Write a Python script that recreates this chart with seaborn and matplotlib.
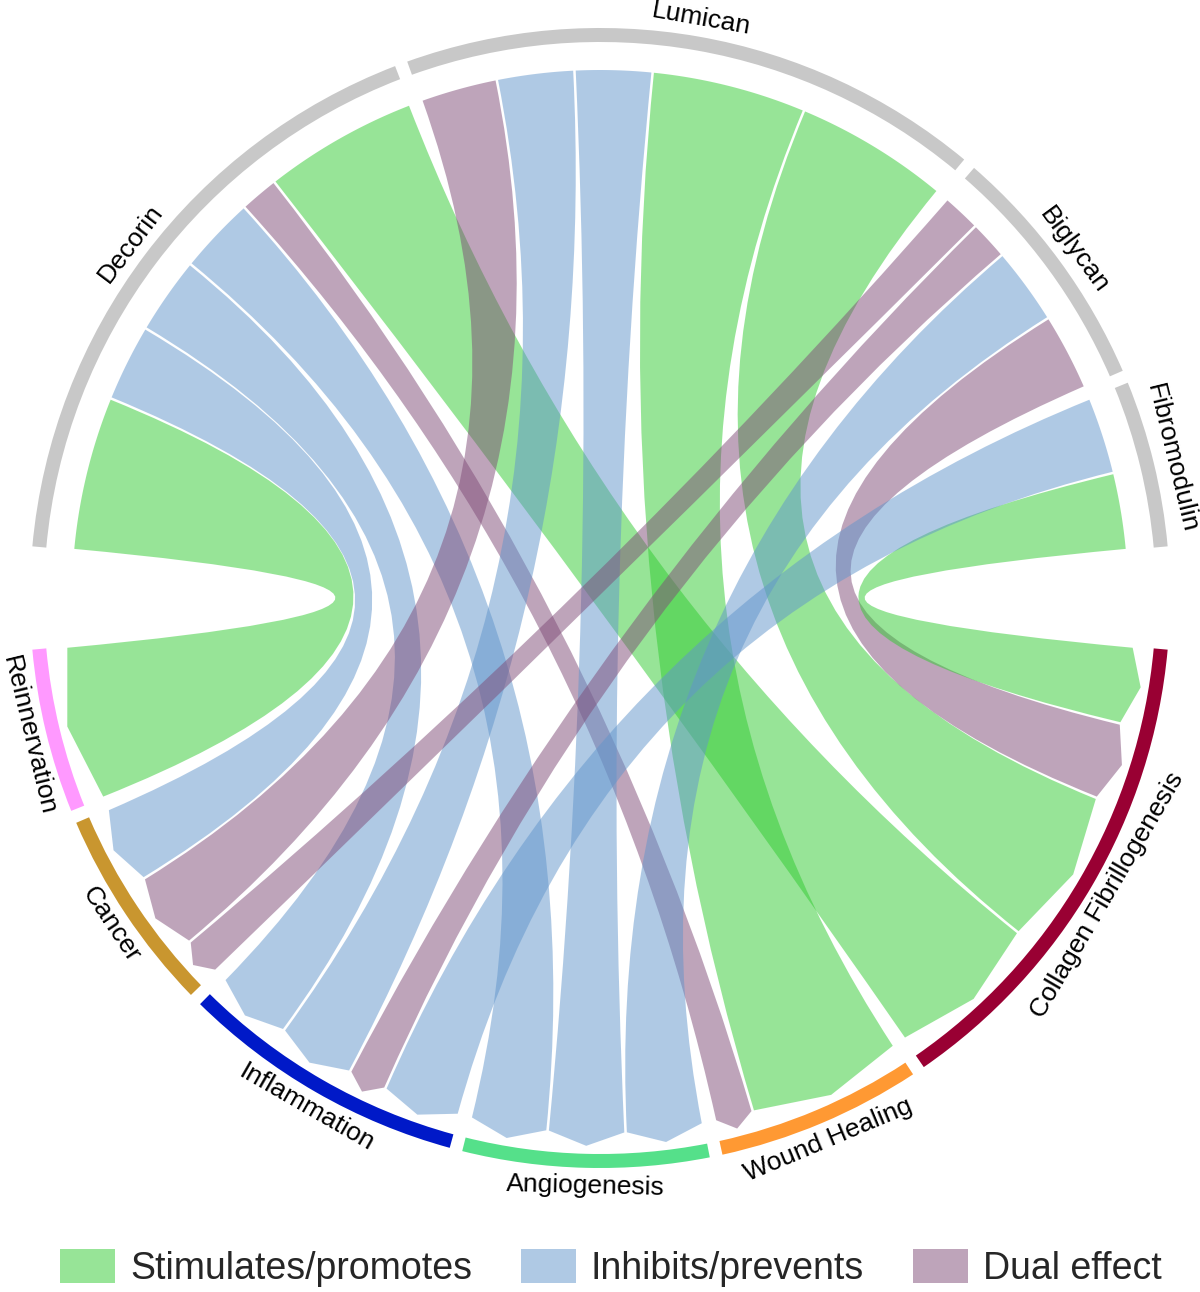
import numpy as np
import matplotlib
matplotlib.use('Agg')
import matplotlib.pyplot as plt
from matplotlib.path import Path
from matplotlib.patches import PathPatch, Wedge, Patch
import seaborn as sns

# groups on the two halves of the circle
proteins = ['Decorin', 'Lumican', 'Biglycan', 'Fibromodulin']
functions = ['Collagen Fibrillogenesis', 'Wound Healing', 'Angiogenesis',
             'Inflammation', 'Cancer', 'Reinnervation']

# link weights protein -> function (same order as functions)
decorin_vals = [4, 1, 2, 2, 2, 4]
lumican_vals = [4, 4, 2, 2, 2, 0]
biglycan_vals = [2, 0, 2, 1, 1, 0]
fibromodulin_vals = [2, 0, 0, 2, 0, 0]

# effect of each link: S stimulates, I inhibits, D dual
decorin_fx = ['S', 'D', 'I', 'I', 'I', 'S']
lumican_fx = ['S', 'S', 'I', 'I', 'D', '']
biglycan_fx = ['D', '', 'I', 'D', 'D', '']
fibromodulin_fx = ['S', '', '', 'I', '', '']

effect_names = ['Stimulates/promotes', 'Inhibits/prevents', 'Dual effect']
effect_keys = ['S', 'I', 'D']
effect_colors = {'S': '#31cb31', 'I': '#6195cb', 'D': '#7f4b77'}
function_colors = ['#990033', '#ff9933', '#55e08a', '#0019c8', '#c9962f', '#ff99ff']
protein_color = '#c8c8c8'

sns.set_theme(style='white')
plt.rcParams['font.family'] = ['Liberation Sans', 'DejaVu Sans']

vals = np.array([decorin_vals, lumican_vals, biglycan_vals, fibromodulin_vals], dtype=float)
fx = [decorin_fx, lumican_fx, biglycan_fx, fibromodulin_fx]
n_p, n_f = vals.shape

# layout (angles clockwise from 12 o'clock)
gap = np.radians(1.3)
top_start, top_end = np.radians(-84.8), np.radians(84.8)
bot_start, bot_end = np.radians(95.2), np.radians(264.8)
total = vals.sum()
k_top = (top_end - top_start - (n_p - 1) * gap) / total
k_bot = (bot_end - bot_start - (n_f - 1) * gap) / total

# protein side: links ordered clockwise by function, last one first
src = {}
prot_arcs = []
a = top_start
for i in range(n_p):
    a0 = a
    for j in reversed(range(n_f)):
        if vals[i, j] > 0:
            src[(i, j)] = (a, a + vals[i, j] * k_top)
            a += vals[i, j] * k_top
    prot_arcs.append((a0, a))
    a += gap

# function side
tgt = {}
func_arcs = []
a = bot_start
for j in range(n_f):
    a0 = a
    for i in reversed(range(n_p)):
        if vals[i, j] > 0:
            tgt[(i, j)] = (a, a + vals[i, j] * k_bot)
            a += vals[i, j] * k_bot
    func_arcs.append((a0, a))
    a += gap


def pt(r, ang):
    return (r * np.sin(ang), r * np.cos(ang))


def ribbon(s0, s1, t0, t1, sr=528, tr=548, hr=13, pad=0.0024):
    # arc at the source, arrow head at the target (like d3.ribbonArrow)
    s0, s1 = s0 + pad, s1 - pad
    t0, t1 = t0 + pad, t1 - pad
    arc = np.linspace(s0, s1, 50)
    verts = [pt(sr, x) for x in arc]
    codes = [Path.MOVETO] + [Path.LINETO] * (len(arc) - 1)
    verts += [(0, 0), pt(tr - hr, t0), pt(tr, (t0 + t1) / 2), pt(tr - hr, t1),
              (0, 0), pt(sr, s0), (0, 0)]
    codes += [Path.CURVE3, Path.CURVE3, Path.LINETO, Path.LINETO,
              Path.CURVE3, Path.CURVE3, Path.CLOSEPOLY]
    return Path(verts, codes)


fig = plt.figure(figsize=(12, 12.92), dpi=100)
ax = fig.add_axes([0, 0, 1, 1])
ax.set_xlim(-600, 600)
ax.set_ylim(-694, 598)
ax.set_aspect('equal')
ax.axis('off')

# chords
for i in range(n_p):
    for j in range(n_f):
        if vals[i, j] > 0:
            s0, s1 = src[(i, j)]
            t0, t1 = tgt[(i, j)]
            ax.add_patch(PathPatch(ribbon(s0, s1, t0, t1), facecolor=effect_colors[fx[i][j]],
                                   edgecolor='none', alpha=0.5))

# outer ring + labels
r_out, r_w = 570, 14
for name, (a0, a1) in zip(proteins, prot_arcs):
    ax.add_patch(Wedge((0, 0), r_out, 90 - np.degrees(a1), 90 - np.degrees(a0),
                       width=r_w, facecolor=protein_color, edgecolor='none'))
    m = (a0 + a1) / 2
    x, y = pt(588, m)
    ax.text(x, y, name, rotation=-np.degrees(m), ha='center', va='center',
            rotation_mode='anchor', fontsize=19, color='black')

for name, col, (a0, a1) in zip(functions, function_colors, func_arcs):
    ax.add_patch(Wedge((0, 0), r_out, 90 - np.degrees(a1), 90 - np.degrees(a0),
                       width=r_w, facecolor=col, edgecolor='none'))
    m = (a0 + a1) / 2
    x, y = pt(588, m)
    ax.text(x, y, name, rotation=180 - np.degrees(m), ha='center', va='center',
            rotation_mode='anchor', fontsize=19, color='black')

handles = [Patch(facecolor=effect_colors[k], alpha=0.5, edgecolor='none', label=n)
           for k, n in zip(effect_keys, effect_names)]
fig.legend(handles=handles, loc='center', bbox_to_anchor=(0.509, 0.0186), ncol=3,
           frameon=False, fontsize=27, handlelength=1.47, handleheight=1.0,
           handletextpad=0.4, columnspacing=1.3, borderaxespad=0)

fig.savefig('out.png', dpi=100)
